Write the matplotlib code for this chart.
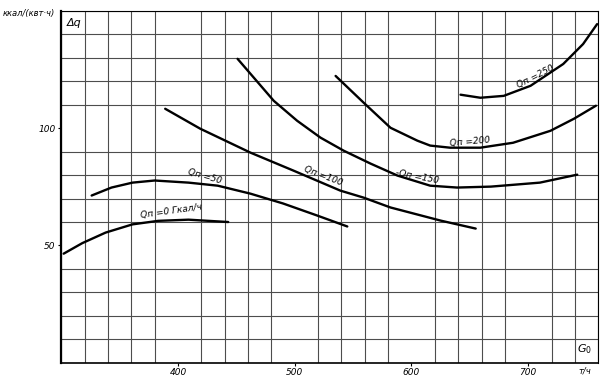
import numpy as np
import matplotlib.pyplot as plt

# curve data (G0 in t/h, dq in kcal/(kWh))
g_q0 = [302, 318, 338, 361, 383, 409, 443]
dq_q0 = [46.5, 51, 55.5, 59, 60.5, 61, 60]

g_q50 = [326, 343, 361, 380, 409, 434, 462, 490, 519, 545]
dq_q50 = [71.3, 74.7, 76.8, 77.7, 76.8, 75.5, 72.1, 67.9, 62.8, 58.1]

g_q100 = [389, 419, 462, 499, 539, 559, 582, 625, 655]
dq_q100 = [108.3, 99.8, 89.6, 81.9, 73.4, 70.4, 66.2, 60.6, 57.2]

g_q150 = [451, 482, 502, 522, 542, 565, 588, 616, 639, 668, 710, 742]
dq_q150 = [129.6, 111.7, 103.2, 96.0, 90.4, 84.9, 79.8, 75.5, 74.7, 75.1, 76.8, 80.2]

g_q200 = [535, 559, 582, 605, 616, 633, 659, 687, 719, 739, 758]
dq_q200 = [122.3, 110.9, 100.2, 94.7, 92.6, 91.7, 91.7, 93.8, 98.9, 104.0, 109.6]

g_q250 = [642, 659, 679, 702, 730, 747, 759]
dq_q250 = [114.3, 113.0, 113.8, 118.1, 127.4, 135.9, 144.4]

curves = [(g_q0, dq_q0), (g_q50, dq_q50), (g_q100, dq_q100),
          (g_q150, dq_q150), (g_q200, dq_q200), (g_q250, dq_q250)]

# curve labels: text, x, y, rotation
labels = ['Qп =0 Гкал/ч', 'Qп =50', 'Qп =100', '-Qп =150', 'Qп =200', 'Qп =250']
label_x = [394, 423, 524, 605, 650, 706]
label_y = [64.5, 79.5, 79.8, 79.3, 94.3, 122]
label_rot = [8, -16, -21, -11, 5, 27]

x_ticks = [400, 500, 600, 700]
x_ticklabels = ['400', '500', '600', '700']
y_ticks = [50, 100]
y_ticklabels = ['50', '100']

fig = plt.figure(figsize=(6.04, 3.79), dpi=100)
ax = fig.add_axes([0.1015, 0.043, 0.889, 0.928])

for g, dq in curves:
    ax.plot(g, dq, color='black', lw=1.7, solid_capstyle='round')

for t, x, y, r in zip(labels, label_x, label_y, label_rot):
    ax.text(x, y, t, fontsize=6.5, style='italic', rotation=r,
            ha='center', va='center', rotation_mode='anchor')

ax.set_xlim(300, 760)
ax.set_ylim(0, 150)
ax.set_xticks(x_ticks)
ax.set_xticklabels(x_ticklabels, fontsize=6.5, style='italic')
ax.set_yticks(y_ticks)
ax.set_yticklabels(y_ticklabels, fontsize=6.5, style='italic')
ax.set_xticks(np.arange(300, 761, 20), minor=True)
ax.set_yticks(np.arange(0, 151, 10), minor=True)
ax.tick_params(which='minor', length=0)
ax.tick_params(which='major', length=2, width=0.8, pad=2)
ax.grid(which='minor', color='0.3', lw=0.8)
ax.set_axisbelow(True)

for s in ['top', 'right']:
    ax.spines[s].set_linewidth(0.8)
ax.spines['left'].set_linewidth(1.6)
ax.spines['bottom'].set_linewidth(1.2)

fig.text(0.005, 0.965, 'ккал/(квт·ч)', fontsize=6, style='italic', va='center')
ax.text(305, 147, 'Δq', fontsize=8, style='italic', va='top')
ax.text(755, 3, '$G_0$', fontsize=8, ha='right', va='bottom')
fig.text(0.958, 0.022, 'т/ч', fontsize=6, style='italic', va='center')

fig.savefig('out.png', dpi=100)
